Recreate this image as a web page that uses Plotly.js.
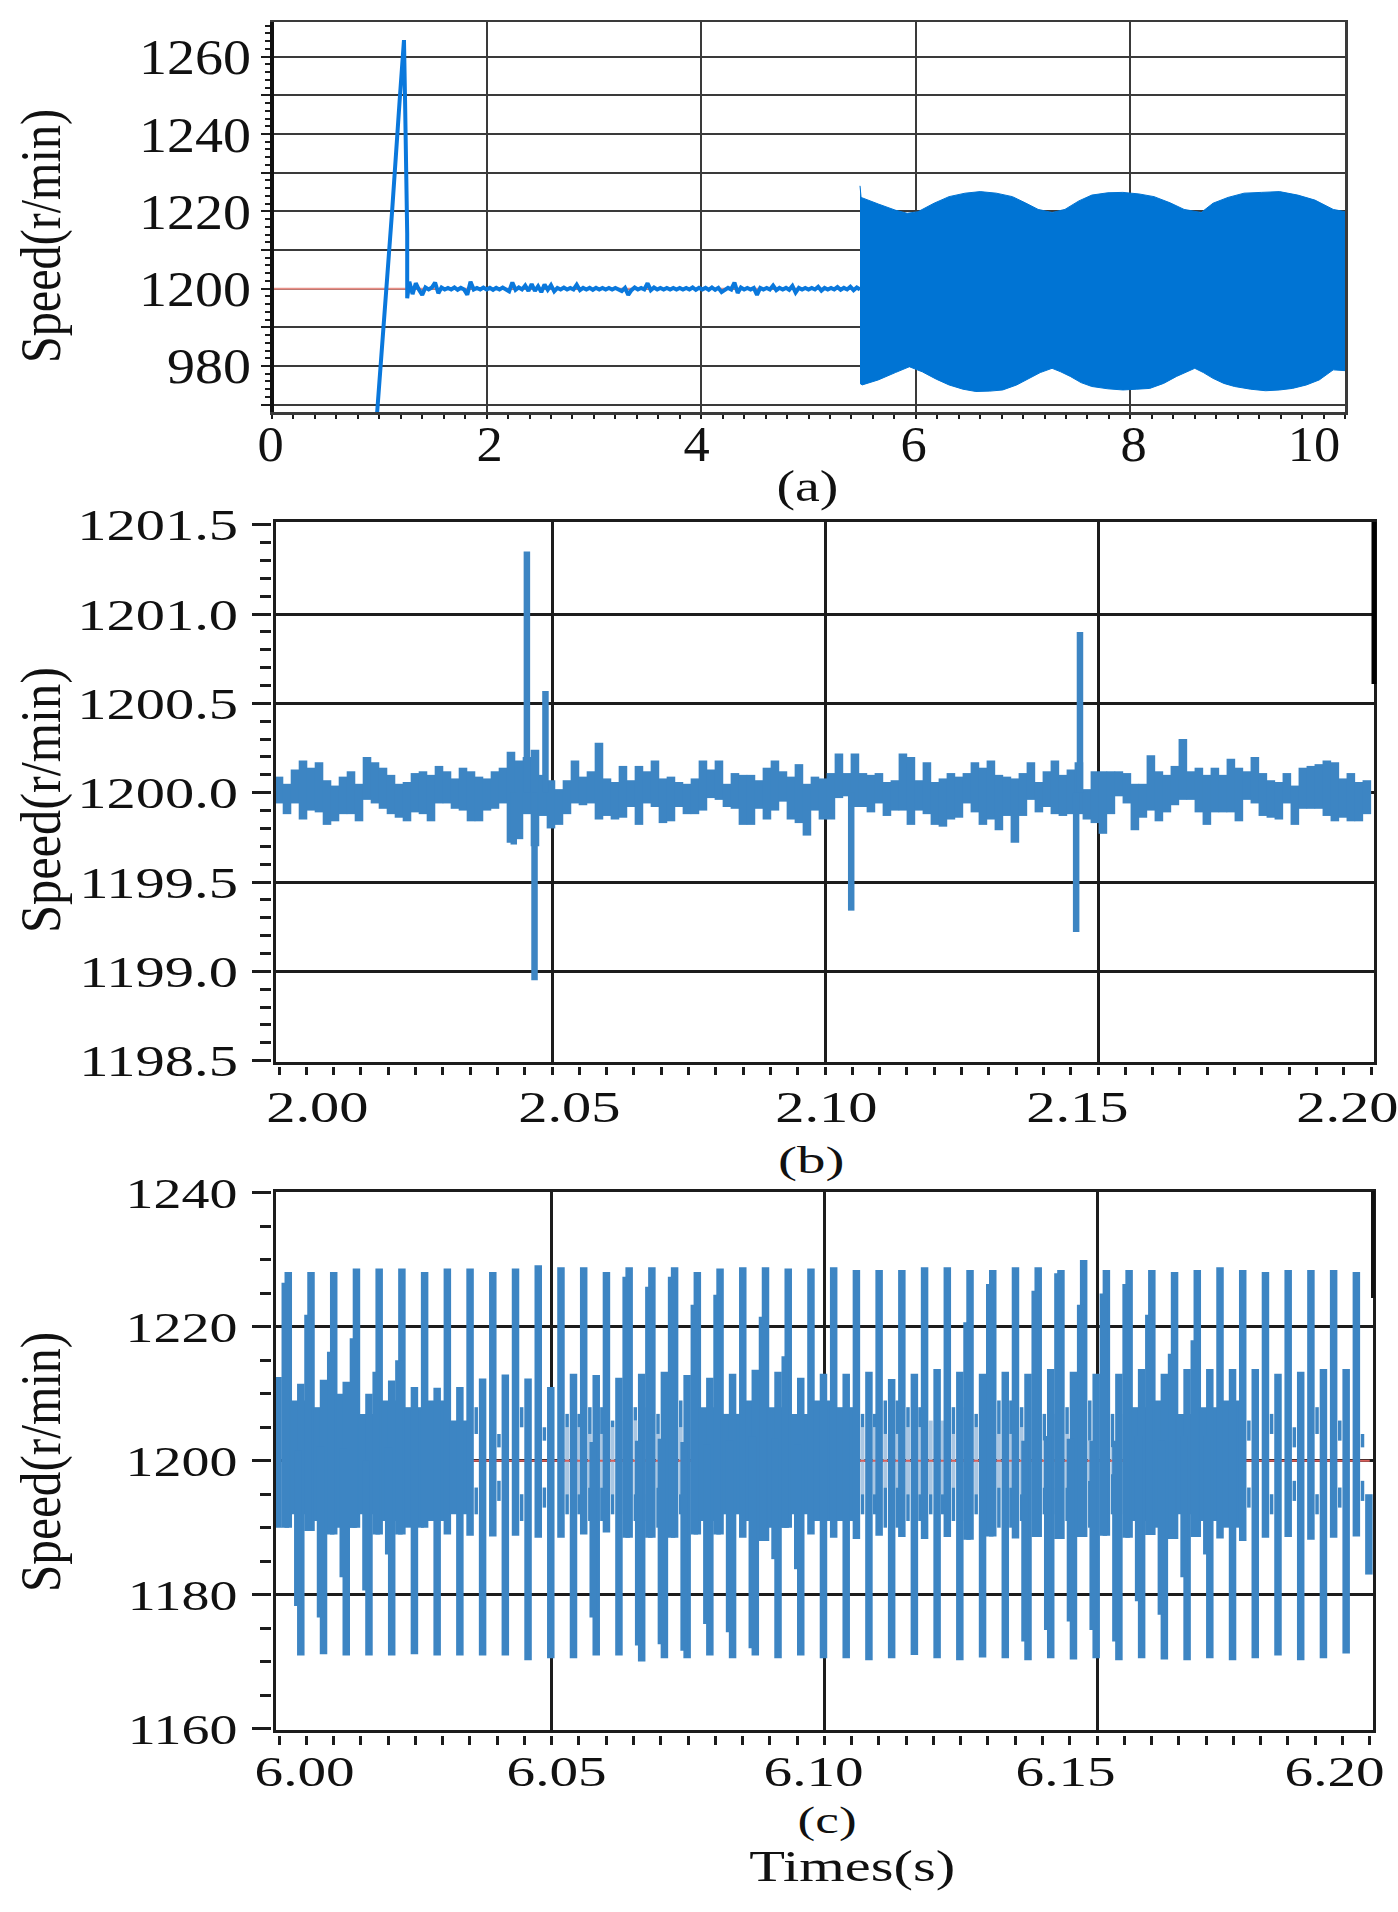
<!DOCTYPE html>
<html><head><meta charset="utf-8">
<script src="https://cdn.plot.ly/plotly-3.0.1.min.js"></script>
<style>html,body{margin:0;padding:0;background:#fff}</style></head>
<body><div id="chart"></div>
<script>
// ---------- panel (a) data ----------
const aRefT=[0,10], aRefV=[1200,1200];
const aRiseT=[0.98,1.04,1.12,1.19,1.23,1.24,1.26,1.26];
const aRiseV=[1168,1189.7,1220.3,1248.8,1264.3,1248.8,1214.3,1197.5];
const aNoiseStart=1.28, aNoiseStep=0.03;
const aNoiseV=[1201.8,1198.6,1201.4,1199.7,1198.4,1200.3,1199.8,1200.3,1201.6,1198.8,1200.3,1199.8,1200.2,1199.8,1200.3,1199.7,1200.2,1199.8,1198.4,1201.8,1199.8,1200.2,1199.8,1200.3,1199.8,1200.2,1199.7,1200.2,1199.8,1200.3,1199.8,1199.3,1201.6,1199.7,1200.3,1199.8,1200.8,1199.4,1201.2,1199.4,1200.6,1199.1,1201.1,1199.7,1200.9,1199.3,1200.2,1199.8,1200.3,1199.8,1200.2,1199.8,1201,1199.6,1200.2,1199.8,1200.2,1199.7,1200.2,1199.8,1200.2,1199.8,1200.2,1199.8,1200.2,1199.7,1199.4,1200.2,1198.4,1199.6,1200.3,1199.8,1200.2,1199.8,1201.4,1199.6,1200.3,1199.8,1200.2,1199.8,1200.2,1199.8,1200.2,1199.8,1200.2,1199.8,1200.2,1199.8,1200.3,1199.7,1200.2,1199.8,1200.2,1199.7,1200.3,1199.7,1200.2,1199.1,1199.8,1200.2,1199.8,1201.6,1198.9,1200.3,1199.8,1200.2,1199.8,1200.2,1198.4,1200.2,1199.8,1200.2,1199.8,1200.8,1199.6,1200.2,1199.8,1200.2,1199.7,1200.7,1199,1200.2,1199.8,1200.2,1199.8,1200.2,1199.8,1200.5,1199.5,1200.2,1199.8,1200.2,1199.8,1200.4,1199.7,1200.2,1199.8,1200.5,1199.6,1200.3,1199.8];
const aUpperT=[5.48,5.49,5.65,5.81,5.92,6.02,6.17,6.31,6.46,6.60,6.75,6.90,7.02,7.14,7.27,7.39,7.52,7.64,7.79,7.93,8.08,8.22,8.37,8.50,8.66,8.77,8.91,9.06,9.22,9.39,9.56,9.72,9.89,10];
const aUpperV=[1226.6,1223.6,1221.9,1220.3,1219.5,1219.9,1222.1,1223.8,1224.7,1225.1,1224.7,1223.8,1222.2,1220.5,1219.7,1220.5,1222.7,1224.2,1224.8,1224.9,1224.5,1223.8,1222.2,1220.5,1219.7,1222.1,1223.6,1224.7,1224.9,1225.1,1224.2,1222.9,1220.5,1219.9];
const aLowerT=[5.48,5.50,5.65,5.81,5.94,6.06,6.19,6.31,6.44,6.56,6.69,6.81,6.94,7.06,7.16,7.27,7.35,7.44,7.54,7.64,7.79,7.93,8.06,8.18,8.31,8.43,8.60,8.68,8.77,8.87,8.97,9.12,9.26,9.39,9.51,9.64,9.76,9.89,10];
const aLowerV=[1175.5,1175.1,1176.4,1178.3,1179.8,1178.5,1176.6,1175.1,1174,1173.4,1173.5,1173.8,1175.1,1176.8,1178.3,1179.4,1178.5,1177.3,1175.7,1174.7,1174.1,1173.8,1174,1174.2,1175.5,1177.3,1179.4,1178.3,1176.8,1175.5,1174.7,1174,1173.6,1173.8,1174.2,1175.1,1176.4,1179,1178.8];
const aYGrid=[1170,1180,1190,1200,1210,1220,1230,1240,1250,1260];
const aYText=['','980','','1200','','1220','','1240','','1260'];
const aXTicks=[0,2,4,6,8,10], aXText=['0','2','4','6','8','10'], aXGrid=[2,4,6,8];

// ---------- panel (b) data ----------
const bRefT=[2,2.2], bRefV=[1200,1200];
const bStart=2.0, bStep=0.001465;
const bHigh=[1200.09,1200.05,1200.13,1200.18,1200.14,1200.17,1200.07,1200.04,1200.09,1200.12,1200.05,1200.20,1200.17,1200.14,1200.10,1200.05,1200.06,1200.11,1200.12,1200.10,1200.15,1200.12,1200.08,1200.14,1200.12,1200.09,1200.08,1200.12,1200.14,1200.23,1200.18,1200.20,1200.24,1200.10,1200.07,1200.02,1200.07,1200.18,1200.09,1200.12,1200.28,1200.08,1200.06,1200.15,1200.07,1200.15,1200.12,1200.18,1200.08,
1200.09,1200.06,1200.05,1200.08,1200.18,1200.13,1200.18,1200.05,1200.11,1200.10,1200.10,1200.07,1200.14,1200.18,1200.12,1200.09,1200.16,1200.05,1200.09,1200.08,1200.11,1200.22,1200.11,1200.22,1200.11,1200.10,1200.11,1200.06,1200.07,1200.22,1200.20,1200.07,1200.17,1200.06,1200.08,1200.11,1200.09,1200.11,1200.17,1200.14,1200.18,1200.10,1200.09,1200.08,1200.11,1200.17,1200.06,1200.12,1200.18,1200.10,
1200.13,1200.17,1200.02,1200.12,1200.12,1200.12,1200.12,1200.11,1200.05,1200.05,1200.21,1200.12,1200.10,1200.15,1200.30,1200.12,1200.14,1200.10,1200.14,1200.10,1200.19,1200.14,1200.12,1200.20,1200.11,1200.07,1200.06,1200.11,1200.04,1200.14,1200.15,1200.16,1200.18,1200.17,1200.08,1200.11,1200.06,1200.07];
const bLow=[1199.94,1199.88,1199.94,1199.85,1199.90,1199.89,1199.82,1199.84,1199.88,1199.88,1199.84,1199.96,1199.94,1199.91,1199.88,1199.86,1199.84,1199.89,1199.88,1199.84,1199.94,1199.94,1199.91,1199.90,1199.84,1199.84,1199.90,1199.91,1199.94,1199.72,1199.74,1199.88,1199.70,1199.87,1199.80,1199.82,1199.88,1199.94,1199.93,1199.94,1199.85,1199.87,1199.85,1199.86,1199.92,1199.82,1199.94,1199.92,1199.83,
1199.84,1199.92,1199.88,1199.88,1199.90,1199.97,1199.96,1199.92,1199.91,1199.82,1199.82,1199.91,1199.85,1199.90,1199.95,1199.85,1199.83,1199.76,1199.90,1199.85,1199.85,1199.97,1199.98,1199.92,1199.92,1199.89,1199.94,1199.87,1199.90,1199.90,1199.82,1199.90,1199.88,1199.82,1199.81,1199.85,1199.86,1199.94,1199.89,1199.82,1199.85,1199.79,1199.87,1199.72,1199.87,1199.96,1199.89,1199.92,1199.88,1199.87,
1199.88,1199.88,1199.85,1199.83,1199.77,1199.88,1199.98,1199.94,1199.79,1199.86,1199.90,1199.84,1199.89,1199.93,1199.96,1199.96,1199.89,1199.82,1199.89,1199.89,1199.89,1199.84,1199.96,1199.94,1199.87,1199.86,1199.85,1199.94,1199.82,1199.91,1199.91,1199.91,1199.87,1199.84,1199.86,1199.84,1199.84,1199.88];
const bSpikeT=[2.0430,2.0454,2.0468,2.0488,2.1048,2.1460,2.1467];
const bSpikeV=[1199.71,1201.35,1198.95,1200.57,1199.34,1199.22,1200.90];
const bYTicks=[1198.5,1199,1199.5,1200,1200.5,1201,1201.5], bYGrid=[1199,1199.5,1200,1200.5,1201];
const bYText=['1198.5','1199.0','1199.5','1200.0','1200.5','1201.0','1201.5'];
const bXTicks=[2,2.05,2.1,2.15,2.2], bXText=['2.00','2.05','2.10','2.15','2.20'], bXGrid=[2.05,2.1,2.15];

// ---------- panel (c) data ----------
const cRefT=[6.025,6.2], cRefV=[1200,1200];
const cCycle=0.004167, cUpStart=6.0017, cDownStart=5.99983;
const cUpTop=[1228.2,1228.2,1228.2,1228.7,1228.7,1228.7,1228.2,1228.7,1228.7,1228.2,1228.7,1229.2,1228.9,1228.9,1228.2,1228.9,1228.9,1228.9,1228.2,1228.7,1228.9,1228.9,1228.7,1228.7,1228.9,1228.5,1228.5,1228.5,1228.9,1228.9,1228.5,1228.5,1228.9,1228.9,1228.5,1230.0,1228.5,1228.5,1228.5,1228.2,1228.5,1228.9,1228.5,1228.2,1228.5,1228.5,1228.5,1228.2];
const cUpBottom=[1190,1189.5,1189,1190,1189,1189,1190,1189,1188.8,1188.7,1188.8,1188.5,1188.5,1189,1189.3,1188.5,1188.5,1188.5,1189,1189,1188.5,1188,1190,1189,1188.5,1188.3,1188.8,1188.6,1188.3,1188.6,1188.2,1188.7,1188.4,1188.6,1188.3,1188.6,1188.8,1188.5,1188.9,1188.3,1188.6,1188.4,1188,1188.5,1188.6,1188.2,1188.5,1188.7];
const cUpShoulder=[1226.6,1221.8,1216.3,1218.3,1213.3,1215,null,null,null,null,null,null,null,null,null,1227.5,1226,1227.5,1223.3,1224.8,null,1221.5,1215.6,null,null,null,null,null,null,null,1220.7,1226.4,null,1225.4,1228,1223.3,1225,1226.4,1221.8,1216,1218,null,null,null,null,null,null,null];
const cDownTop=[1212.5,1211.5,1212.1,1211.8,1210,1212,1211,1210.9,1211,1212.3,1212.9,1212.3,1211,1213,1212.8,1212.4,1213,1213.3,1212.8,1212.4,1213,1213.6,1213.3,1212.4,1213,1213,1213.3,1212.2,1213,1213.7,1213.3,1213,1213.3,1213,1213.7,1213.3,1213,1213,1213.7,1213,1213.7,1213.7,1213.7,1213.7,1213,1213.3,1213.7,1213.7,1195];
const cDownBottom=[1190,1170.9,1171.1,1170.9,1170.9,1170.9,1171.1,1170.9,1170.9,1170.9,1170.9,1170.2,1170.5,1170.5,1170.9,1170.9,1170,1170.5,1170.5,1170.9,1170.5,1170.9,1170.5,1170.9,1170.5,1170.5,1170.2,1170.5,1171,1170.5,1170.2,1170.6,1170.5,1170.2,1170.5,1170.3,1170.5,1170.2,1170.5,1170.3,1170.2,1170.5,1170.2,1170.5,1170.9,1170.2,1170.5,1171.2,1183];
const cDownShoulder=[null,1178.3,1176.6,1182.6,1180.6,1186,null,null,null,null,null,null,null,null,1176.6,null,1172.4,1172.6,1171.6,1175.6,1174.4,1172,1185.3,1183.8,null,null,null,null,null,null,null,null,null,1173,1174.7,1176,1174.7,1173,1179,1177,1182.6,1186,null,null,null,null,null,null,null];
// inner band between the big bars: 's' solid, 'm' medium with pale gaps, 'o' open
const cDensity=['s','s','s','s','s','s','s','s','o','o','o','o','m','m','m','m','m','m','s','s','s','s','s','s','s','m','m','m','m','m','m','m','m','m','m','m','m','s','s','s','s','s','o','o','o','o','o','o'];
const cInnerTop=[1209,1208,1210,1207,1209,1208,1209,1206,1208,1204,1208,1205,1207,1208,1206,1208,1207,1209,1208,1207,1209,1208,1207,1209,1208,1207,1209,1208,1206,1208,1207,1209,1208,1207,1208,1209,1207,1208,1209,1207,1208,1209,1206,1207,1205,1208,1206,1204];
const cInnerBottom=[1192,1191,1190,1192,1191,1190,1191,1192,1192,1194,1191,1193,1192,1191,1192,1191,1190,1192,1191,1192,1191,1190,1192,1191,1191,1192,1190,1191,1192,1191,1192,1190,1191,1192,1191,1190,1192,1191,1190,1192,1191,1190,1193,1192,1194,1192,1193,1194];
const cGapTop=[1200,1200,1200,1200,1200,1200,1200,1200,1204,1202,1205,1203,1205,1204,1205,1206,1204,1205,1200,1200,1200,1200,1200,1200,1200,1205,1204,1205,1206,1204,1205,1204,1205,1203,1204,1203,1202,1200,1200,1200,1200,1200,1203,1204,1202,1204,1203,1202];
const cGapBottom=[1200,1200,1200,1200,1200,1200,1200,1200,1196,1197,1195,1196,1195,1196,1195,1195,1196,1195,1200,1200,1200,1200,1200,1200,1200,1195,1196,1195,1195,1196,1195,1196,1195,1196,1196,1197,1198,1200,1200,1200,1200,1200,1196,1195,1197,1195,1196,1197];
const cYTicks=[1160,1180,1200,1220,1240], cYGrid=[1180,1200,1220];
const cYText=['1160','1180','1200','1220','1240'];
const cXTicks=[6,6.05,6.1,6.15,6.2], cXText=['6.00','6.05','6.10','6.15','6.20'], cXGrid=[6.05,6.1,6.15];

// ---------- build series ----------
const W=1398,H=1912;
const aLineT=aRiseT.concat(aNoiseV.map((_,i)=>aNoiseStart+i*aNoiseStep));
const aLineV=aRiseV.concat(aNoiseV);
const aBandT=aUpperT.concat(aLowerT.slice().reverse());
const aBandV=aUpperV.concat(aLowerV.slice().reverse());

const bT=[],bV=[];
bHigh.forEach((v,i)=>{ if(bLow[i]!==undefined){const t=bStart+i*bStep;bT.push(t,t,null);bV.push(v,bLow[i],null);} });
const bST=[],bSV=[];
bSpikeT.forEach((t,i)=>{bST.push(t,t,null);bSV.push(1200,bSpikeV[i],null);});

const cT=[],cV=[],cThinT=[],cThinV=[],cPaleT=[],cPaleV=[];
function seg(T,V,t,a,b){ if(a===null||b===null) return; T.push(t,t,null); V.push(a,b,null); }
const cPx=1/5453;
cUpTop.forEach((v,i)=>{
  const t=cUpStart+i*cCycle, d=cDensity[i];
  seg(cT,cV,t,v,cUpBottom[i]);
  seg(cT,cV,t-3*cPx,cUpShoulder[i],cUpBottom[i]);
  const phases=d==='o'?[0.27]:[0.27,0.80];
  phases.forEach(ph=>{
    const tf=t+ph*cCycle;
    if(d==='s'){ seg(cT,cV,tf,cInnerTop[i],cInnerBottom[i]); }
    else {
      seg(cThinT,cThinV,tf,cInnerTop[i],cGapTop[i]);
      seg(cThinT,cThinV,tf,cGapBottom[i],cInnerBottom[i]);
      if(d==='m') seg(cPaleT,cPaleV,tf,cGapTop[i],cGapBottom[i]);
    }
  });
});
cDownTop.forEach((v,i)=>{
  const t=cDownStart+i*cCycle;
  seg(cT,cV,t,v,cDownBottom[i]);
  seg(cT,cV,t-3*cPx,cDownShoulder[i],v-10);
});

// ---------- layout helpers ----------
const dx=(a,b)=>[a/W,b/W];
const dy=(top,bot)=>[1-bot/H,1-top/H];
const INK='#1c1c1c';
const SERIF='Liberation Serif, serif';
function mainAxis(range,dom,vals,c,w,lw,anchor){return {anchor,domain:dom,range,tickmode:'array',tickvals:vals,ticktext:vals.map(()=>''),ticks:'',showticklabels:false,showgrid:true,gridcolor:c,gridwidth:w,zeroline:false,showline:true,linecolor:c,linewidth:lw,mirror:true};}
function tickX(base,range,dom,posPx,vals,tick0,minor,majLen,minLen,w){return {overlaying:base,anchor:'free',position:1-posPx/H,domain:dom,range,side:'bottom',tickmode:'array',tickvals:vals,ticktext:vals.map(()=>''),ticks:'outside',ticklen:majLen,tickwidth:w,tickcolor:INK,showgrid:false,zeroline:false,showline:false,showticklabels:false,
  minor:{ticks:'outside',tick0,dtick:minor,ticklen:minLen,tickwidth:w,tickcolor:INK,showgrid:false}};}
function tickY(base,range,dom,posPx,vals,text,tick0,minor,majLen,minLen,w,size,standoff){return {overlaying:base,anchor:'free',position:posPx/W,domain:dom,range,side:'left',tickmode:'array',tickvals:vals,ticktext:text,ticks:'outside',ticklen:majLen,tickwidth:w,tickcolor:INK,ticklabelstandoff:standoff,showgrid:false,zeroline:false,showline:false,tickfont:{family:SERIF,size,color:'#111'},
  minor:{ticks:'outside',tick0,dtick:minor,ticklen:minLen,tickwidth:w,tickcolor:INK,showgrid:false}};}

// annotations: text labels with their horizontal stretch
const ann=[], annStretch=[];
function label(text,px,py,size,k,angle){ann.push({text,xref:'paper',yref:'paper',x:px/W,y:1-py/H,xanchor:'center',yanchor:'middle',showarrow:false,textangle:angle||0,font:{family:SERIF,size,color:'#111'}});annStretch.push(k);}
function xLabels(axis,vals,text,shifts,py,size,k){vals.forEach((v,i)=>{ann.push({text:text[i],xref:axis,yref:'paper',x:v,y:1-py/H,xshift:shifts[i],xanchor:'center',yanchor:'middle',showarrow:false,font:{family:SERIF,size,color:'#111'}});annStretch.push(k);});}

xLabels('x',aXTicks,aXText,[-2,3,-5,-2,3,-31],444,50,1.05);
xLabels('x2',bXTicks,bXText,[38,17,1,-21,-24],1107,45,1.3);
xLabels('x3',cXTicks,cXText,[25,5,-11,-32,-35],1771,43,1.33);
label('Speed(r/min)',40,236,58,0.83,-90);
label('Speed(r/min)',40,800,58,0.87,-90);
label('Speed(r/min)',40,1462,58,0.85,-90);
label('(a)',807,487,44,1.27);
label('(b)',811,1160,38,1.5);
label('(c)',827,1820,38,1.4);
label('Times(s)',852,1866,45,1.3);

const aR=[1168.1,1268.97], bR=[1198.495,1201.517], cR=[1159.78,1240.22];
const aX=[0,10], bX=[1.99945,2.20055], cX=[5.99945,6.2006];
const aDX=dx(272,1345), aDY=dy(22,412), bDX=dx(276,1374), bDY=dy(521.7,1061.6), cDX=dx(276,1373), cDY=dy(1191.5,1730);

const layout={width:W,height:H,margin:{l:0,r:0,t:0,b:0},paper_bgcolor:'#fff',plot_bgcolor:'#fff',showlegend:false,
  xaxis:mainAxis(aX,aDX,aXGrid,'#3a3a3a',2,2.5,'y'),
  yaxis:mainAxis(aR,aDY,aYGrid,'#3a3a3a',2,2.5,'x'),
  xaxis2:mainAxis(bX,bDX,bXGrid,INK,3,3,'y2'),
  yaxis2:mainAxis(bR,bDY,bYGrid,INK,3,3,'x2'),
  xaxis3:mainAxis(cX,cDX,cXGrid,INK,3,3,'y3'),
  yaxis3:mainAxis(cR,cDY,cYGrid,INK,3,3,'x3'),
  xaxis4:tickX('x',aX,aDX,414,aXTicks,0,0.2,8,4,2),
  yaxis4:tickY('y',aR,aDY,270,aYGrid,aYText,1170,2,9,5,2,50,0),
  xaxis5:tickX('x2',bX,bDX,1066,bXTicks,2,0.005,15,8,3),
  yaxis5:tickY('y2',bR,bDY,271,bYTicks,bYText,1198.5,0.1,19,11,3,45,5),
  xaxis6:tickX('x3',cX,cDX,1735,cXTicks,6,0.005,15,9,3),
  yaxis6:tickY('y3',cR,cDY,271,cYTicks,cYText,1160,5,19,11,3,43,6),
  annotations:ann,
  shapes:[
    {type:'line',xref:'paper',yref:'paper',x0:272/W,x1:272/W,y0:1-412/H,y1:1-22/H,line:{color:'#111',width:4}},
    {type:'line',xref:'paper',yref:'paper',x0:1374/W,x1:1374/W,y0:1-684/H,y1:1-522/H,line:{color:'#000',width:5}},
    {type:'line',xref:'paper',yref:'paper',x0:1373/W,x1:1373/W,y0:1-1298/H,y1:1-1191/H,line:{color:'#111',width:4}}
  ]
};
const LINE_A='#0a78dc', BAND_A='#0074d4', LINE_B='#3d85c3';
const traces=[
  {x:aRefT,y:aRefV,xaxis:'x',yaxis:'y',mode:'lines',line:{color:'#e88f86',width:2},hoverinfo:'skip'},
  {x:aLineT,y:aLineV,xaxis:'x',yaxis:'y',mode:'lines',line:{color:LINE_A,width:4}},
  {x:aBandT,y:aBandV,xaxis:'x',yaxis:'y',mode:'lines',fill:'toself',fillcolor:BAND_A,line:{color:BAND_A,width:1}},
  {x:bRefT,y:bRefV,xaxis:'x2',yaxis:'y2',mode:'lines',line:{color:'#d9605c',width:1.5},hoverinfo:'skip'},
  {x:bT,y:bV,xaxis:'x2',yaxis:'y2',mode:'lines',line:{color:LINE_B,width:8.6}},
  {x:bST,y:bSV,xaxis:'x2',yaxis:'y2',mode:'lines',line:{color:LINE_B,width:6.5}},
  {x:cPaleT,y:cPaleV,xaxis:'x3',yaxis:'y3',mode:'lines',line:{color:'#a9c6e2',width:4},hoverinfo:'skip'},
  {x:cRefT,y:cRefV,xaxis:'x3',yaxis:'y3',mode:'lines',line:{color:'#d9605c',width:2},hoverinfo:'skip'},
  {x:cThinT,y:cThinV,xaxis:'x3',yaxis:'y3',mode:'lines',line:{color:LINE_B,width:3.5}},
  {x:cT,y:cV,xaxis:'x3',yaxis:'y3',mode:'lines',line:{color:LINE_B,width:7.5}},
  {x:[],y:[],xaxis:'x4',yaxis:'y4',mode:'lines',hoverinfo:'skip'},
  {x:[],y:[],xaxis:'x5',yaxis:'y5',mode:'lines',hoverinfo:'skip'},
  {x:[],y:[],xaxis:'x6',yaxis:'y6',mode:'lines',hoverinfo:'skip'}
];
const tickStretch={y4:1.12,y5:1.3,y6:1.3};
function stretch(el,k){ if(k===1) return; const n=el.getComputedTextLength(); el.setAttribute('textLength',n*k); el.setAttribute('lengthAdjust','spacingAndGlyphs'); }
Plotly.newPlot('chart',traces,layout,{displayModeBar:false,staticPlot:true}).then(gd=>{
  Object.keys(tickStretch).forEach(id=>{ gd.querySelectorAll('g.'+id+'tick text').forEach(t=>stretch(t,tickStretch[id])); });
  gd.querySelectorAll('.annotation').forEach(a=>{ const i=+a.getAttribute('data-index'); const t=a.querySelector('text'); if(t) stretch(t,annStretch[i]); });
});
</script></body></html>
